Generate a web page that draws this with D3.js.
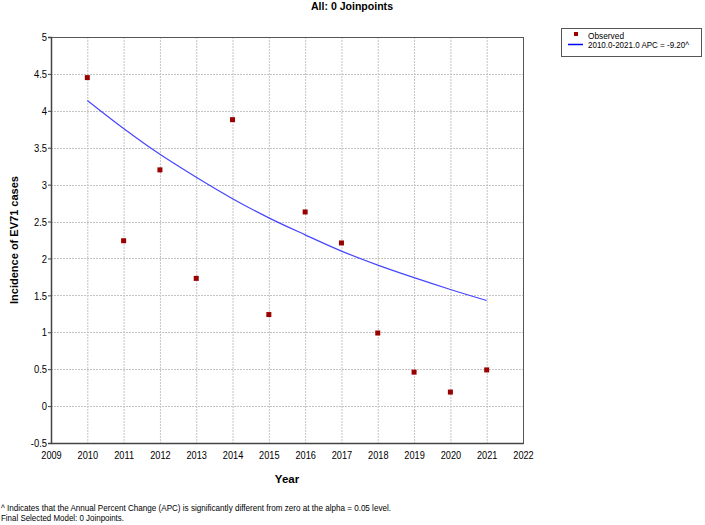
<!DOCTYPE html>
<html>
<head>
<meta charset="utf-8">
<script src="https://cdn.jsdelivr.net/npm/d3@7"></script>
<style>
html,body{margin:0;padding:0;background:#fff;}
svg{display:block;}
text{font-family:"Liberation Sans",Arial,sans-serif;fill:#000;}
</style>
</head>
<body>
<svg id="chart" width="705" height="525"></svg>
<script>
const years = [2010, 2011, 2012, 2013, 2014, 2015, 2016, 2017, 2018, 2019, 2020, 2021];
const observed = [4.45, 2.24, 3.20, 1.73, 3.88, 1.24, 2.63, 2.21, 0.99, 0.46, 0.19, 0.49];
const modeled = [4.14, 3.76, 3.41, 3.10, 2.81, 2.55, 2.32, 2.10, 1.91, 1.74, 1.58, 1.43];
const xTicks = [2009, 2010, 2011, 2012, 2013, 2014, 2015, 2016, 2017, 2018, 2019, 2020, 2021, 2022];
const yTicks = [-0.5, 0, 0.5, 1, 1.5, 2, 2.5, 3, 3.5, 4, 4.5, 5];
const titleText = "All: 0 Joinpoints";
const xTitle = "Year";
const yTitle = "Incidence of EV71 cases";
const legendLabels = ["Observed", "2010.0-2021.0 APC  = -9.20^"];
const footnotes = ["^ Indicates that the Annual Percent Change (APC) is significantly different from zero at the alpha = 0.05 level.",
                   "Final Selected Model: 0 Joinpoints."];

const svg = d3.select("#chart");
const L = 51, R = 523, T = 37, B = 443;
const x = d3.scaleLinear().domain([2009, 2022]).range([L, R]);
const y = d3.scaleLinear().domain([-0.5, 5]).range([B, T]);

function narrow(sel, f) {
  sel.each(function() {
    const w = this.getComputedTextLength();
    d3.select(this).attr("textLength", w * f).attr("lengthAdjust", "spacingAndGlyphs");
  });
}

// gridlines
const grid = svg.append("g");
grid.selectAll("line.gx").data(xTicks.slice(1, -1)).enter().append("line")
  .attr("x1", d => x(d) + 0.5).attr("x2", d => x(d) + 0.5)
  .attr("y1", T).attr("y2", B)
  .attr("stroke", "#c4c4c4").attr("stroke-width", 1).attr("stroke-dasharray", "2,1");
grid.selectAll("line.gy").data(yTicks.slice(1, -1)).enter().append("line")
  .attr("y1", d => Math.round(y(d)) + 0.5).attr("y2", d => Math.round(y(d)) + 0.5)
  .attr("x1", L).attr("x2", R)
  .attr("stroke", "#c4c4c4").attr("stroke-width", 1).attr("stroke-dasharray", "2,1");

// frame
svg.append("rect").attr("x", L + 0.5).attr("y", T + 0.5).attr("width", R - L).attr("height", B - T)
  .attr("fill", "none").attr("stroke", "#555").attr("stroke-width", 1);

// axes
const xAxis = svg.append("g").attr("transform", `translate(0,${B})`)
  .call(d3.axisBottom(x).tickValues(xTicks).tickFormat(d3.format("d")).tickSize(0).tickPadding(8));
xAxis.select(".domain").attr("stroke", "#444").attr("stroke-width", 1.5);
xAxis.selectAll("text").attr("font-size", "11.5px").attr("font-family", '"Liberation Sans",Arial,sans-serif').attr("fill", "#000");
narrow(xAxis.selectAll("text"), 0.8);

const yAxis = svg.append("g").attr("transform", `translate(${L},0)`)
  .call(d3.axisLeft(y).tickValues(yTicks).tickFormat(d => String(d)).tickSize(3).tickPadding(1));
yAxis.select(".domain").attr("stroke", "#444").attr("stroke-width", 1.5);
yAxis.selectAll(".tick line").attr("stroke", "#444");
yAxis.selectAll("text").attr("font-size", "11.5px").attr("font-family", '"Liberation Sans",Arial,sans-serif').attr("fill", "#000");
narrow(yAxis.selectAll("text"), 0.82);

// fitted line
const line = d3.line().x((d, i) => x(years[i])).y(d => y(d)).curve(d3.curveMonotoneX);
svg.append("path").datum(modeled).attr("d", line)
  .attr("fill", "none").attr("stroke", "#4646ff").attr("stroke-width", 1.2);

// observed points
svg.selectAll("rect.pt").data(observed).enter().append("rect")
  .attr("x", (d, i) => x(years[i]) - 2.5).attr("y", d => y(d) - 2.5)
  .attr("width", 5).attr("height", 5).attr("fill", "#990000");

// titles
svg.append("text").attr("x", 352).attr("y", 10).attr("text-anchor", "middle")
  .attr("font-size", "11px").attr("font-weight", "bold")
  .attr("textLength", 82).attr("lengthAdjust", "spacingAndGlyphs").text(titleText);
svg.append("text").attr("x", (L + R) / 2).attr("y", 483).attr("text-anchor", "middle")
  .attr("font-size", "11.5px").attr("font-weight", "bold").text(xTitle);
svg.append("text").attr("transform", `translate(18,${(T + B) / 2}) rotate(-90)`).attr("text-anchor", "middle")
  .attr("font-size", "11px").attr("font-weight", "bold")
  .attr("textLength", 128).attr("lengthAdjust", "spacingAndGlyphs").text(yTitle);

// legend
const lg = svg.append("g");
lg.append("rect").attr("x", 561.5).attr("y", 28.5).attr("width", 140).attr("height", 28)
  .attr("fill", "#fff").attr("stroke", "#555").attr("stroke-width", 1);
lg.append("rect").attr("x", 574).attr("y", 32).attr("width", 4).attr("height", 4).attr("fill", "#990000");
lg.append("line").attr("x1", 568).attr("x2", 583).attr("y1", 44.5).attr("y2", 44.5)
  .attr("stroke", "#0000ff").attr("stroke-width", 1.5);
lg.append("text").attr("x", 588).attr("y", 38.5).attr("font-size", "9.5px")
  .attr("textLength", 36).attr("lengthAdjust", "spacingAndGlyphs").text(legendLabels[0]);
lg.append("text").attr("x", 588).attr("y", 48).attr("font-size", "8.5px")
  .attr("textLength", 101).attr("lengthAdjust", "spacingAndGlyphs").text(legendLabels[1]);

// footnotes
svg.append("text").attr("x", 1).attr("y", 511).attr("font-size", "9.5px")
  .attr("textLength", 390).attr("lengthAdjust", "spacingAndGlyphs").text(footnotes[0]);
svg.append("text").attr("x", 1).attr("y", 520.5).attr("font-size", "9.5px")
  .attr("textLength", 123).attr("lengthAdjust", "spacingAndGlyphs").text(footnotes[1]);
</script>
</body>
</html>
